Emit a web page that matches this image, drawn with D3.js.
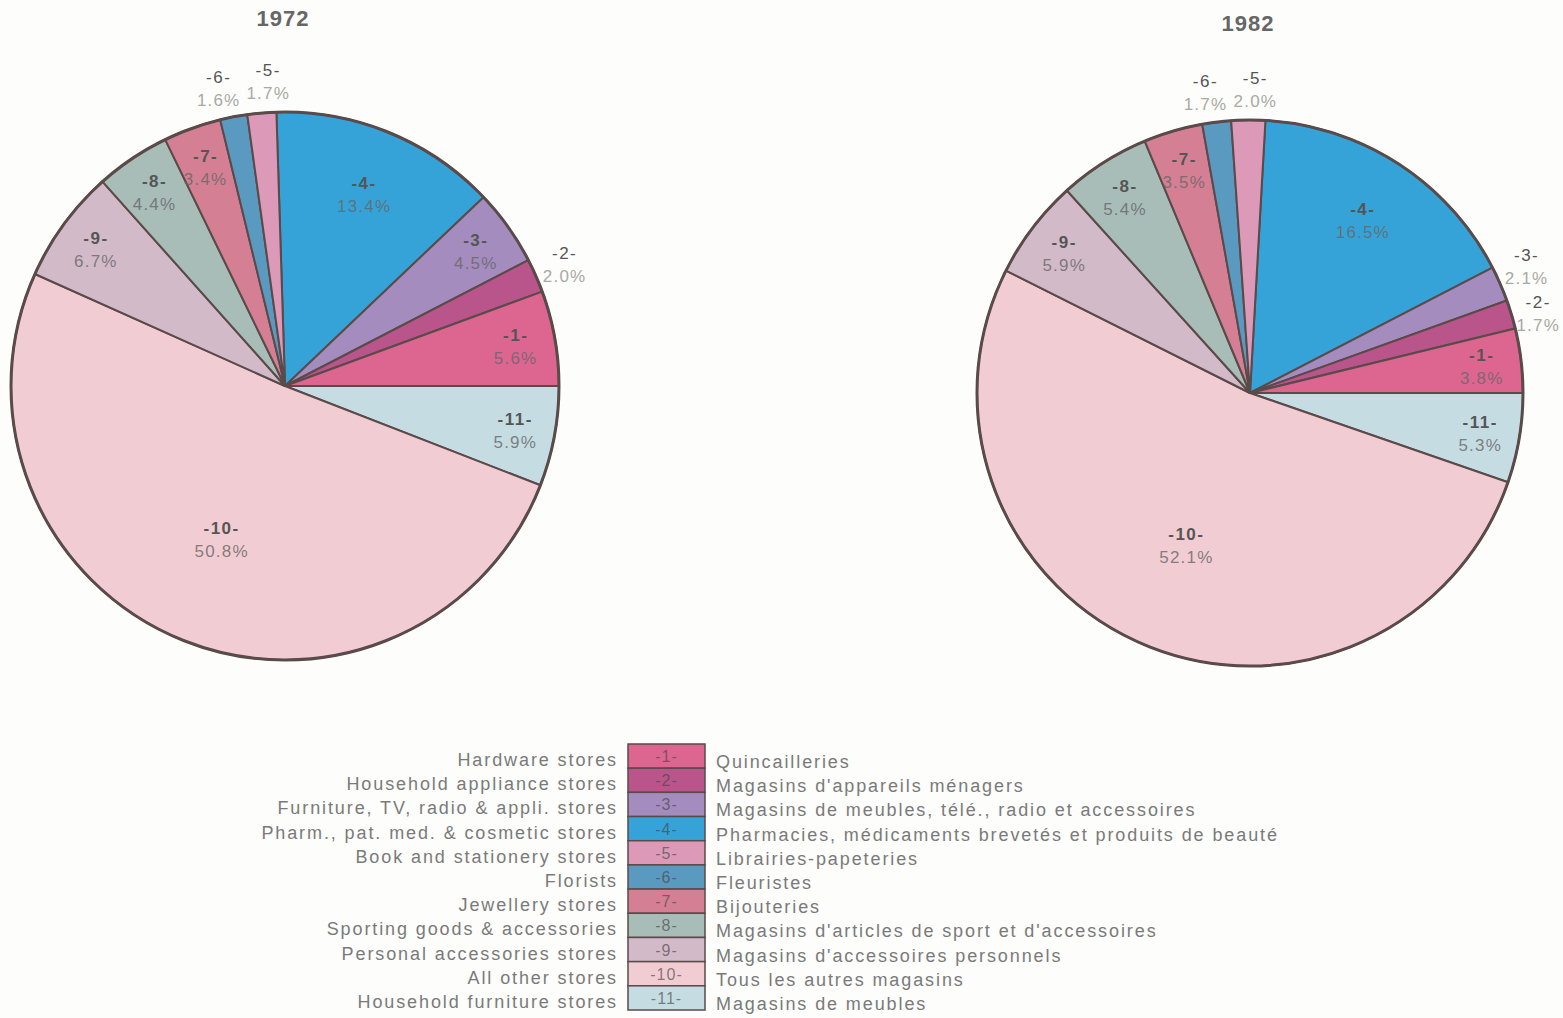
<!DOCTYPE html>
<html>
<head>
<meta charset="utf-8">
<script src="https://cdn.jsdelivr.net/npm/d3@7"></script>
<style>
  html, body { margin: 0; padding: 0; background: #fdfdfb; }
  svg { display: block; font-family: "Liberation Sans", Arial, sans-serif; }
</style>
</head>
<body>
<div id="chart"></div>
<script>
// ── Data ───────────────────────────────────────────────────────────────────

const codes = ['1', '2', '3', '4', '5', '6', '7', '8', '9', '10', '11'];

const englishNames = [
  'Hardware stores',
  'Household appliance stores',
  'Furniture, TV, radio & appli. stores',
  'Pharm., pat. med. & cosmetic stores',
  'Book and stationery stores',
  'Florists',
  'Jewellery stores',
  'Sporting goods & accessories',
  'Personal accessories stores',
  'All other stores',
  'Household furniture stores',
];

const frenchNames = [
  'Quincailleries',
  "Magasins d'appareils ménagers",
  'Magasins de meubles, télé., radio et accessoires',
  'Pharmacies, médicaments brevetés et produits de beauté',
  'Librairies-papeteries',
  'Fleuristes',
  'Bijouteries',
  "Magasins d'articles de sport et d'accessoires",
  "Magasins d'accessoires personnels",
  'Tous les autres magasins',
  'Magasins de meubles',
];

const colors = [
  '#dc6690', '#b9558a', '#a58cbe', '#36a3d8', '#dc9ab8', '#5b9ac0',
  '#d57f95', '#a8bcb8', '#d3bac9', '#f2ccd3', '#c5dce3',
];

// percent share per category (same order as codes)
const values1972 = [5.6, 2.0, 4.5, 13.4, 1.7, 1.6, 3.4, 4.4, 6.7, 50.8, 5.9];
const values1982 = [3.8, 1.7, 2.1, 16.5, 2.0, 1.7, 3.5, 5.4, 5.9, 52.1, 5.3];

// clockwise order of slices starting near 12 o'clock
const sliceOrder = ['4', '3', '2', '1', '11', '10', '9', '8', '7', '6', '5'];

const years = ['1972', '1982'];

// ── Layout ─────────────────────────────────────────────────────────────────

const W = 1563, H = 1018;
const STROKE = '#5a4b4a';

const svg = d3.select('#chart').append('svg')
  .attr('width', W)
  .attr('height', H)
  .attr('viewBox', `0 0 ${W} ${H}`);

const pies = [
  { year: years[0], values: values1972, cx: 285, cy: 386, r: 274, titleY: 26 },
  { year: years[1], values: values1982, cx: 1250, cy: 393, r: 273, titleY: 31 },
];

const color = d3.scaleOrdinal().domain(codes).range(colors);

// label radius as a fraction of the pie radius
function labelFrac(v) {
  if (v < 2.5) return 1.115;  // thin slices: outside
  if (v >= 30) return 0.6;
  if (v >= 10) return 0.76;
  return 0.855;
}

// ── Pies ───────────────────────────────────────────────────────────────────

pies.forEach((p) => {
  const rows = sliceOrder.map((c) => ({ code: c, value: p.values[codes.indexOf(c)] }));
  const total = d3.sum(rows, (d) => d.value);

  // slices 4,3,2,1 end exactly at 3 o'clock
  const firstQuarter = d3.sum(rows.slice(0, 4), (d) => d.value);
  const start = Math.PI / 2 - (firstQuarter / total) * 2 * Math.PI;

  const pie = d3.pie()
    .sort(null)
    .value((d) => d.value)
    .startAngle(start)
    .endAngle(start + 2 * Math.PI);

  const arcs = pie(rows);
  const arc = d3.arc().innerRadius(0).outerRadius(p.r);

  const g = svg.append('g').attr('transform', `translate(${p.cx},${p.cy})`);

  g.selectAll('path.slice')
    .data(arcs)
    .enter()
    .append('path')
    .attr('class', 'slice')
    .attr('d', arc)
    .attr('fill', (d) => color(d.data.code))
    .attr('stroke', STROKE)
    .attr('stroke-width', 2)
    .attr('stroke-linejoin', 'round');

  g.append('circle')
    .attr('r', p.r)
    .attr('fill', 'none')
    .attr('stroke', STROKE)
    .attr('stroke-width', 3);

  // label anchor points
  arcs.forEach((d) => {
    const a = (d.startAngle + d.endAngle) / 2;
    const lr = p.r * labelFrac(d.data.value);
    d.lx = lr * Math.sin(a);
    d.ly = -lr * Math.cos(a);
    d.outside = d.data.value < 2.5;
  });

  // push neighbouring outside labels apart so they do not collide
  const outs = arcs.filter((d) => d.outside);
  const minGap = 50;
  for (let k = 0; k < 6; k++) {
    for (let i = 0; i < outs.length; i++) {
      for (let j = i + 1; j < outs.length; j++) {
        const a = outs[i], b = outs[j];
        const dx = b.lx - a.lx, dy = b.ly - a.ly;
        const dist = Math.hypot(dx, dy);
        if (dist < minGap && dist > 0) {
          const push = (minGap - dist) / 2;
          a.lx -= (dx / dist) * push; a.ly -= (dy / dist) * push;
          b.lx += (dx / dist) * push; b.ly += (dy / dist) * push;
        }
      }
    }
  }

  const labels = g.selectAll('g.lbl')
    .data(arcs)
    .enter()
    .append('g')
    .attr('class', 'lbl')
    .attr('transform', (d) => `translate(${d.lx},${d.ly})`);

  labels.append('text')
    .attr('y', -4)
    .attr('text-anchor', 'middle')
    .attr('font-size', 17)
    .attr('font-weight', (d) => (d.outside ? 'normal' : 'bold'))
    .attr('letter-spacing', 1.5)
    .attr('fill', '#555')
    .text((d) => `-${d.data.code}-`);

  labels.append('text')
    .attr('y', 19)
    .attr('text-anchor', 'middle')
    .attr('font-size', 17)
    .attr('letter-spacing', 1.2)
    .attr('fill', (d) => (d.outside ? '#a9a9a4' : '#666'))
    .attr('fill-opacity', (d) => (d.outside ? 1 : 0.8))
    .text((d) => `${d3.format('.1f')(d.data.value)}%`);

  // keep labels inside the page on the right
  labels.each(function (d) {
    const box = this.getBBox();
    const right = p.cx + d.lx + box.x + box.width;
    if (right > W - 3) {
      d.lx -= right - (W - 3);
      d3.select(this).attr('transform', `translate(${d.lx},${d.ly})`);
    }
  });

  svg.append('text')
    .attr('x', p.cx - 2)
    .attr('y', p.titleY)
    .attr('text-anchor', 'middle')
    .attr('font-size', 22)
    .attr('font-weight', 'bold')
    .attr('letter-spacing', 1)
    .attr('fill', '#666')
    .text(p.year);
});

// ── Legend ─────────────────────────────────────────────────────────────────

const rowScale = d3.scaleBand().domain(codes).range([744, 1010]).padding(0);
const boxX = 628, boxW = 77;

const legend = svg.append('g').attr('class', 'legend');

const rowsG = legend.selectAll('g.row')
  .data(codes)
  .enter()
  .append('g')
  .attr('class', 'row')
  .attr('transform', (c) => `translate(0,${rowScale(c)})`);

rowsG.append('rect')
  .attr('x', boxX)
  .attr('y', 0)
  .attr('width', boxW)
  .attr('height', rowScale.bandwidth())
  .attr('fill', (c) => color(c))
  .attr('stroke', STROKE)
  .attr('stroke-width', 1.5);

rowsG.append('text')
  .attr('x', boxX + boxW / 2)
  .attr('y', rowScale.bandwidth() / 2 + 6)
  .attr('text-anchor', 'middle')
  .attr('font-size', 16)
  .attr('letter-spacing', 1)
  .attr('fill', '#444')
  .attr('fill-opacity', 0.65)
  .text((c) => `-${c}-`);

rowsG.append('text')
  .attr('x', boxX - 10)
  .attr('y', rowScale.bandwidth() / 2 + 10)
  .attr('text-anchor', 'end')
  .attr('font-size', 18)
  .attr('letter-spacing', 1.9)
  .attr('fill', '#7a7a7a')
  .text((c, i) => englishNames[i]);

rowsG.append('text')
  .attr('x', boxX + boxW + 11)
  .attr('y', rowScale.bandwidth() / 2 + 12)
  .attr('text-anchor', 'start')
  .attr('font-size', 18)
  .attr('letter-spacing', 1.9)
  .attr('fill', '#7a7a7a')
  .text((c, i) => frenchNames[i]);
</script>
</body>
</html>
